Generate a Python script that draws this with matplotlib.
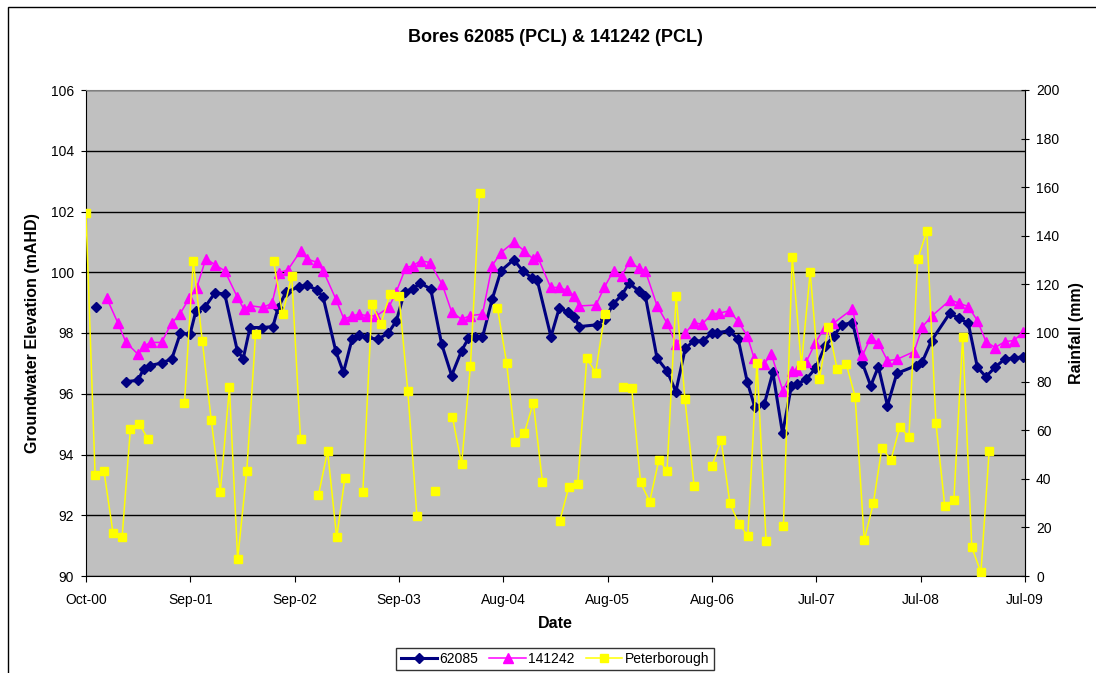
import numpy as np
import pandas as pd
import matplotlib
matplotlib.use('Agg')
import matplotlib.pyplot as plt
from matplotlib.patches import Rectangle

plt.rcParams['font.family'] = ['Liberation Sans', 'DejaVu Sans']

# days since 1 Oct 2000
days_62085 = [35, 100, 135, 177, 196, 218, 257, 292, 321, 354,
              374, 406, 438, 472, 515, 535, 558, 599, 636, 653,
              680, 726, 751, 786, 807, 850, 876, 905, 928, 955,
              992, 1028, 1056, 1084, 1111, 1138, 1173, 1210, 1244, 1278,
              1301, 1323, 1349, 1382, 1412, 1455, 1487, 1518, 1535, 1582,
              1610, 1639, 1662, 1678, 1738, 1766, 1793, 1823, 1848, 1880,
              1903, 1943, 1977, 2007, 2039, 2068, 2098, 2130, 2148, 2188,
              2219, 2250, 2275, 2308, 2337, 2370, 2400, 2420, 2451, 2482,
              2515, 2545, 2571, 2608, 2642, 2670, 2696, 2727, 2759, 2823,
              2846, 2877, 2939, 2969, 3002, 3033, 3062, 3093, 3127, 3157,
              3187]
level_62085 = [98.84, None, 96.40, 96.44, 96.82, 96.93, 97.01, 97.15, 97.99, 97.96,
               98.73, 98.87, 99.31, 99.29, 97.41, 97.16, 98.18, 98.18, 98.21, 98.81,
               99.34, 99.53, 99.57, 99.42, 99.17, 97.40, 96.70, 97.79, 97.93, 97.86,
               97.79, 97.99, 98.40, 99.36, 99.45, 99.64, 99.45, 97.64, 96.60, 97.42,
               97.82, 97.88, 97.86, 99.11, 100.05, 100.41, 100.04, 99.80, 99.75, 97.88,
               98.81, 98.70, 98.54, 98.21, 98.27, 98.45, 98.95, 99.25, 99.64, 99.39,
               99.23, 97.17, 96.75, 96.07, 97.49, 97.74, 97.74, 97.99, 98.01, 98.07,
               97.80, 96.39, 95.58, 95.66, 96.70, 94.70, 96.24, 96.32, 96.48, 96.84,
               97.57, 97.91, 98.27, 98.34, 97.00, 96.26, 96.89, 95.61, 96.67, 96.92,
               97.06, 97.75, 98.65, 98.49, 98.32, 96.87, 96.56, 96.87, 97.15, 97.17,
               97.22]

days_141242 = [71, 109, 136, 177, 198, 221, 257, 291, 320, 351,
               376, 408, 440, 472, 514, 537, 558, 602, 633, 658,
               687, 730, 751, 785, 807, 850, 878, 905, 928, 957,
               987, 1030, 1056, 1088, 1111, 1139, 1170, 1212, 1244, 1278,
               1306, 1349, 1382, 1412, 1455, 1492, 1520, 1535, 1581, 1610,
               1637, 1661, 1678, 1735, 1764, 1795, 1823, 1850, 1880, 1903,
               1943, 1977, 2008, 2039, 2068, 2096, 2130, 2153, 2189, 2219,
               2250, 2273, 2306, 2332, 2371, 2403, 2420, 2451, 2482, 2513,
               2543, 2608, 2642, 2670, 2696, 2727, 2759, 2818, 2846, 2878,
               2941, 2971, 3002, 3033, 3062, 3093, 3127, 3157, 3187]
level_141242 = [99.14, 98.32, 97.69, 97.30, 97.58, 97.69, 97.69, 98.32, 98.63, 99.14,
                99.47, 100.45, 100.24, 100.05, 99.20, 98.79, 98.90, 98.84, 98.98, 99.99,
                100.08, 100.70, 100.44, 100.33, 100.05, 99.12, 98.45, 98.56, 98.62, 98.57,
                98.56, 98.84, 99.36, 100.15, 100.21, 100.38, 100.32, 99.60, 98.70, 98.45,
                98.57, 98.62, 100.22, 100.65, 100.99, 100.70, 100.45, 100.55, 99.50, 99.50,
                99.40, 99.23, 98.89, 98.92, 99.51, 100.05, 99.89, 100.37, 100.13, 100.05,
                98.90, 98.32, 97.64, 97.99, 98.34, 98.29, 98.63, 98.65, 98.73, 98.38,
                97.90, 97.18, 96.97, 97.30, 96.10, 96.75, 96.78, 97.06, 97.68, 98.18,
                98.32, 98.79, 97.26, 97.85, 97.68, 97.09, 97.13, 97.39, 98.21, 98.56,
                99.09, 98.98, 98.87, 98.41, 97.72, 97.52, 97.72, 97.75, 98.02]

# monthly rainfall from Oct 2000 (None = no record)
rain_peterborough = [149.2, 41.4, 43.3, 17.6, 16.2, 60.5, 62.4, 56.2, None, None, None, 71.3,
                     129.5, 96.6, 64.3, 34.7, 77.6, 6.9, 43.2, 99.6, None, 129.8, 107.7, 123.5,
                     56.2, None, 33.3, 51.4, 15.9, 40.5, None, 34.6, 111.9, 103.6, 116.0, 115.2,
                     76.1, 24.7, None, 35.0, None, 65.3, 46.0, 86.4, 157.5, None, 110.4, 87.8,
                     55.0, 59.0, 71.3, 38.8, None, 22.6, 36.8, 37.7, 89.6, 83.7, 107.8, None,
                     77.6, 77.2, 38.5, 30.6, 47.7, 43.3, 115.2, 72.8, 37.2, None, 45.3, 56.0,
                     29.9, 21.3, 16.5, 87.8, 14.4, None, 20.6, 131.4, 86.8, 125.0, 80.9, 102.6,
                     85.0, 87.1, 73.8, 14.8, 29.9, 52.8, 47.7, 61.5, 57.1, 130.3, 142.1, 62.8,
                     28.9, 31.3, 98.5, 11.8, 1.5, 51.4]

start = pd.Timestamp('2000-10-01')
x_62085 = start + pd.to_timedelta(days_62085, unit='D')
x_141242 = start + pd.to_timedelta(days_141242, unit='D')
x_rain = pd.date_range(start, periods=len(rain_peterborough), freq='MS')
tick_dates = [start + pd.Timedelta(days=355 * k) for k in range(10)]

W, H = 1096, 673
fig = plt.figure(figsize=(W / 100, H / 100), dpi=100)
ax = fig.add_axes([86 / W, 1 - 576 / H, (1025 - 86) / W, (576 - 90) / H])
ax.set_facecolor('#c0c0c0')
ax2 = ax.twinx()

l1, = ax.plot(x_62085, np.array(level_62085, dtype=float), color='#000080', lw=2.2,
              marker='D', ms=5.5, label='62085')
l2, = ax.plot(x_141242, np.array(level_141242, dtype=float), color='#ff00ff', lw=1.1,
              marker='^', ms=6.5, label='141242')
l3, = ax2.plot(x_rain, np.array(rain_peterborough, dtype=float), color='#ffff00', lw=1.1,
               marker='s', ms=6, label='Peterborough')

ax.set_xlim(start, start + pd.Timedelta(days=3195))
ax.set_ylim(90, 106)
ax.set_yticks(range(90, 107, 2))
ax2.set_ylim(0, 200)
ax2.set_yticks(range(0, 201, 20))
ax.set_xticks(tick_dates)
ax.set_xticklabels([d.strftime('%b-%y') for d in tick_dates])

ax.yaxis.grid(True, color='black', lw=1)
ax.set_axisbelow(True)

for s in ['top', 'right']:
    ax.spines[s].set_color('#808080')
for s in ['left', 'bottom']:
    ax.spines[s].set_color('black')
for s in ['top', 'left', 'bottom']:
    ax2.spines[s].set_visible(False)
ax2.spines['right'].set_color('black')

ax.tick_params(axis='x', direction='out', length=4, pad=8, labelsize=10)
ax.tick_params(axis='y', direction='out', length=3.6, pad=5, labelsize=10)
ax2.tick_params(axis='y', direction='inout', length=6, pad=5, labelsize=10)

ax.set_xlabel('Date', fontsize=11.5, fontweight='bold', va='center')
ax.xaxis.set_label_coords(0.5, (576 - 623) / 486)
ax.set_ylabel('Groundwater Elevation (mAHD)', fontsize=11.5, fontweight='bold', va='center')
ax.yaxis.set_label_coords((33 - 86) / 939, 0.5)
ax2.set_ylabel('Rainfall (mm)', fontsize=11.5, fontweight='bold', va='center')
ax2.yaxis.set_label_coords((1076 - 86) / 939, 0.5)

fig.text(555 / W, 1 - 37 / H, 'Bores 62085 (PCL) & 141242 (PCL)', ha='center', va='center',
         fontsize=13, fontweight='bold')

leg = fig.legend(handles=[l1, l2, l3], loc='center', bbox_to_anchor=(555 / W, 1 - 659 / H),
                 ncol=3, fontsize=10, frameon=True, fancybox=False, edgecolor='black',
                 handlelength=2.6, handletextpad=0.2, columnspacing=0.8, borderpad=0.3,
                 borderaxespad=0)
leg.get_frame().set_linewidth(1)

fig.patches.append(Rectangle((8 / W, -0.1), 1.2, 1 - 7 / H + 0.1, transform=fig.transFigure,
                             fill=False, edgecolor='black', lw=1))

fig.savefig('out.png', dpi=100)
